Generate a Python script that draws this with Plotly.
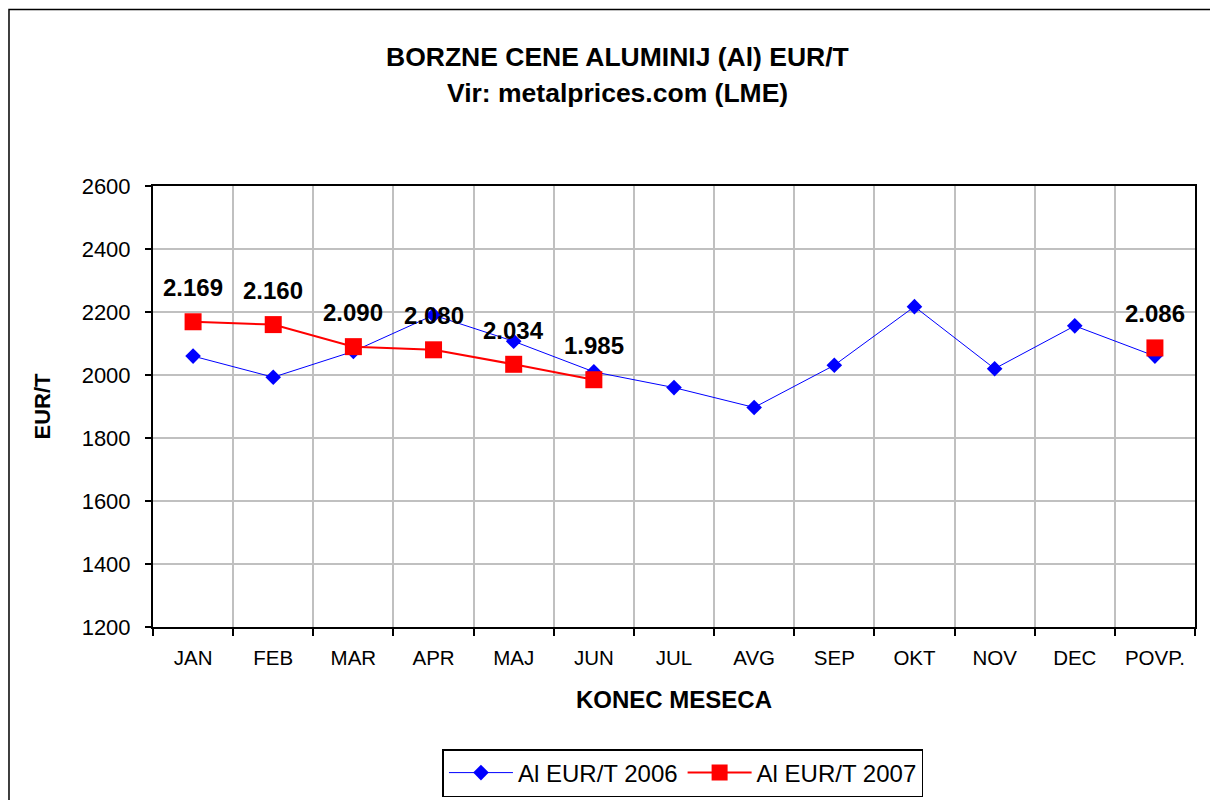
import plotly.graph_objects as go

months = ["JAN", "FEB", "MAR", "APR", "MAJ", "JUN", "JUL", "AVG", "SEP", "OKT", "NOV", "DEC", "POVP."]
al_2006 = [2060, 1993, 2075, 2190, 2107, 2010, 1960, 1897, 2031, 2217, 2020, 2156, 2060]
al_2007 = [2169, 2160, 2090, 2080, 2034, 1985, None, None, None, None, None, None, 2086]

FONT = "Liberation Sans, Arial, sans-serif"

fig = go.Figure()
fig.add_trace(go.Scatter(
    x=months, y=al_2006, mode="lines+markers", name="Al EUR/T 2006",
    line=dict(color="#0000ff", width=1),
    marker=dict(symbol="diamond", size=12, color="#0000ff"),
))
fig.add_trace(go.Scatter(
    x=months, y=al_2007, mode="lines+markers", name="Al EUR/T 2007",
    line=dict(color="#ff0000", width=2),
    marker=dict(symbol="square", size=17, color="#ff0000"),
))

# data labels for 2007 series
for m, v in zip(months, al_2007):
    if v is None:
        continue
    fig.add_annotation(
        x=m, y=v, xref="x", yref="y", showarrow=False, yshift=34,
        text=f"<b>{v:,}</b>".replace(",", "."),
        font=dict(family=FONT, size=24, color="black"),
    )

# titles
fig.add_annotation(x=0.4453, xref="paper", y=1.2925, yref="paper", showarrow=False,
                   text="<b>BORZNE CENE ALUMINIJ (Al) EUR/T</b>",
                   font=dict(family=FONT, size=26.5, color="black"), yanchor="middle")
fig.add_annotation(x=0.4453, xref="paper", y=1.2109, yref="paper", showarrow=False,
                   text="<b>Vir: metalprices.com (LME)</b>",
                   font=dict(family=FONT, size=26.5, color="black"), yanchor="middle")

# outer chart border
fig.add_shape(type="rect", xref="paper", yref="paper",
              x0=-0.1382, x1=1.04, y0=-0.45, y1=1.4005,
              line=dict(color="black", width=1.5), fillcolor="rgba(0,0,0,0)", layer="below")

fig.update_layout(
    width=1218, height=800,
    margin=dict(l=145, r=31, t=178, b=181),
    paper_bgcolor="white", plot_bgcolor="white",
    font=dict(family=FONT, color="black"),
    showlegend=True,
    legend=dict(
        orientation="h", x=0.5086, xanchor="center",
        yref="container", y=0.04375, yanchor="middle",
        bordercolor="black", borderwidth=1.5, bgcolor="white",
        font=dict(family=FONT, size=24, color="black"),
        itemwidth=64,
    ),
)
fig.update_xaxes(
    type="category", tickson="boundaries", range=[-0.5, 12.5],
    showgrid=True, gridcolor="#c0c0c0", gridwidth=1.5,
    showline=True, linecolor="black", linewidth=2, mirror=True,
    ticks="outside", ticklen=7, tickcolor="black", tickwidth=1.5,
    tickfont=dict(family=FONT, size=20.5, color="black"),
    ticklabelstandoff=11,
    title=dict(text="<b>KONEC MESECA</b>", font=dict(family=FONT, size=24, color="black"), standoff=24),
)
fig.update_yaxes(
    range=[1200, 2600], dtick=200, tick0=1200,
    showgrid=True, gridcolor="#c0c0c0", gridwidth=1.5, zeroline=False,
    showline=True, linecolor="black", linewidth=2, mirror=True,
    ticks="outside", ticklen=6, tickcolor="black", tickwidth=1.5,
    tickfont=dict(family=FONT, size=22, color="black"),
    ticklabelstandoff=10,
    title=dict(text="<b>EUR/T</b>", font=dict(family=FONT, size=22, color="black"), standoff=25),
)

fig.write_html("out.html")
